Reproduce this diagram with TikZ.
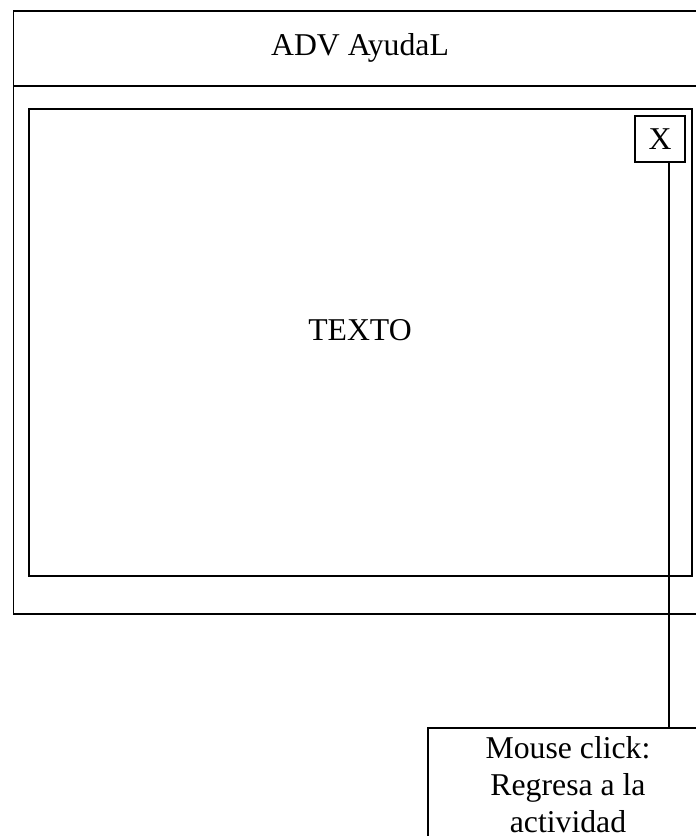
\documentclass[tikz,border=0pt]{standalone}
\usepackage{fontspec}
\setmainfont{Liberation Serif}
\begin{document}
\begin{tikzpicture}[x=0.75pt,y=-0.75pt,
  box/.style={draw=black,line width=1pt,inner sep=0pt,outer sep=0pt},
  lbl/.style={font=\fontsize{23.8}{27.8}\selectfont,align=center}]
\useasboundingbox (0,0) rectangle (696,836);
% outer window
\node[box,minimum width=692.5*0.75pt,minimum height=603*0.75pt,anchor=north west] (outer) at (13.5,11) {};
\draw[line width=1pt] (13.5,86) coordinate (tl) -- (706,86) coordinate (tr);
\node[lbl] (title) at (360,48) {ADV AyudaL};
% inner panel
\node[box,minimum width=663*0.75pt,minimum height=467*0.75pt,anchor=north west] (inner) at (29,109) {};
\node[lbl] (texto) at (360,330) {TEXTO};
% close button
\node[box,minimum width=50*0.75pt,minimum height=46*0.75pt,lbl] (xbtn) at (660,139) {X};
% callout
\node[box,minimum width=280*0.75pt,minimum height=122*0.75pt,anchor=north west] (callout) at (428,728) {};
\node[lbl,anchor=north] (ctext) at (568,732) {Mouse click:\\Regresa a la\\actividad};
% connector
\draw[line width=1pt] ([xshift=6.75pt]xbtn.south) -- ([xshift=6.75pt]xbtn.south |- callout.north);
\end{tikzpicture}
\end{document}
